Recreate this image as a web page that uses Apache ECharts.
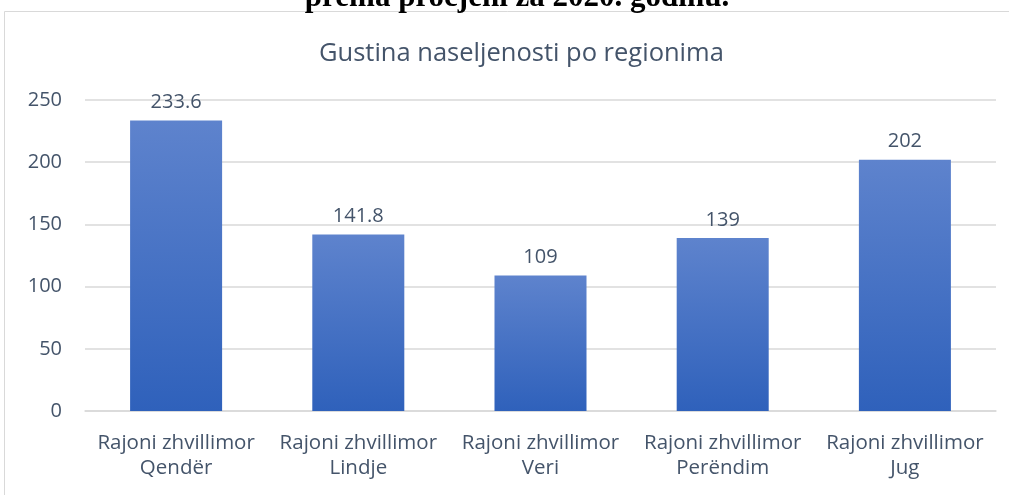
<!DOCTYPE html>
<html>
<head>
<meta charset="utf-8">
<script src="https://cdn.jsdelivr.net/npm/echarts@6/dist/echarts.min.js"></script>
<style>
  html, body { margin: 0; padding: 0; background: #fff; }
  #chart { width: 1009px; height: 495px; }
</style>
</head>
<body>
<div id="chart"></div>
<script>
// 区域名称（两行显示）
const regions = [
  'Rajoni zhvillimor\nQendër',
  'Rajoni zhvillimor\nLindje',
  'Rajoni zhvillimor\nVeri',
  'Rajoni zhvillimor\nPerëndim',
  'Rajoni zhvillimor\nJug'
];
// 人口密度
const density = [233.6, 141.8, 109, 139, 202];
const yTicks = [0, 50, 100, 150, 200, 250];

const textColor = '#44546A';
const chart = echarts.init(document.getElementById('chart'));

let option = {
  backgroundColor: '#fff',
  animation: false,
  title: {
    text: 'Gustina naseljenosti po regionima',
    left: 314,
    top: 36,
    textStyle: {
      fontFamily: 'Open Sans',
      fontSize: 25.5,
      fontWeight: 'normal',
      color: textColor
    }
  },
  graphic: [
    {   // 图表外框
      type: 'rect',
      shape: { x: 4.5, y: 11.5, width: 1020, height: 500 },
      style: { fill: 'none', stroke: '#D9D9D9', lineWidth: 1 },
      silent: true
    },
    {   // 上方被截断的标题
      type: 'text',
      x: 517,
      y: 13,
      style: {
        text: 'prema procjeni za 2020. godinu.',
        fontFamily: 'Liberation Serif',
        fontSize: 31,
        fontWeight: 'bold',
        fill: '#000',
        align: 'center',
        verticalAlign: 'bottom'
      },
      silent: true
    }
  ],
  grid: {
    left: 85,
    right: 13,
    top: 100,
    bottom: 84
  },
  xAxis: {
    type: 'category',
    data: regions,
    axisLine: { lineStyle: { color: '#D9D9D9', width: 1.5 } },
    axisTick: { show: false },
    axisLabel: {
      color: textColor,
      fontFamily: 'Open Sans',
      fontSize: 20.5,
      lineHeight: 25,
      margin: 20,
      interval: 0
    }
  },
  yAxis: {
    type: 'value',
    min: yTicks[0],
    max: yTicks[yTicks.length - 1],
    interval: 50,
    axisLine: { show: false },
    axisTick: { show: false },
    splitLine: { lineStyle: { color: '#D9D9D9', width: 1.5 } },
    axisLabel: {
      color: textColor,
      fontFamily: 'Open Sans',
      fontSize: 20,
      margin: 23
    }
  },
  series: [
    {
      type: 'bar',
      data: density,
      barWidth: '50.5%',
      itemStyle: {
        color: new echarts.graphic.LinearGradient(0, 0, 0, 1, [
          { offset: 0, color: '#5E83CD' },
          { offset: 1, color: '#2F61BB' }
        ])
      },
      label: {
        show: true,
        position: 'top',
        distance: 8,
        color: textColor,
        fontFamily: 'Open Sans',
        fontSize: 20
      }
    }
  ]
};
chart.setOption(option);
</script>
</body>
</html>
